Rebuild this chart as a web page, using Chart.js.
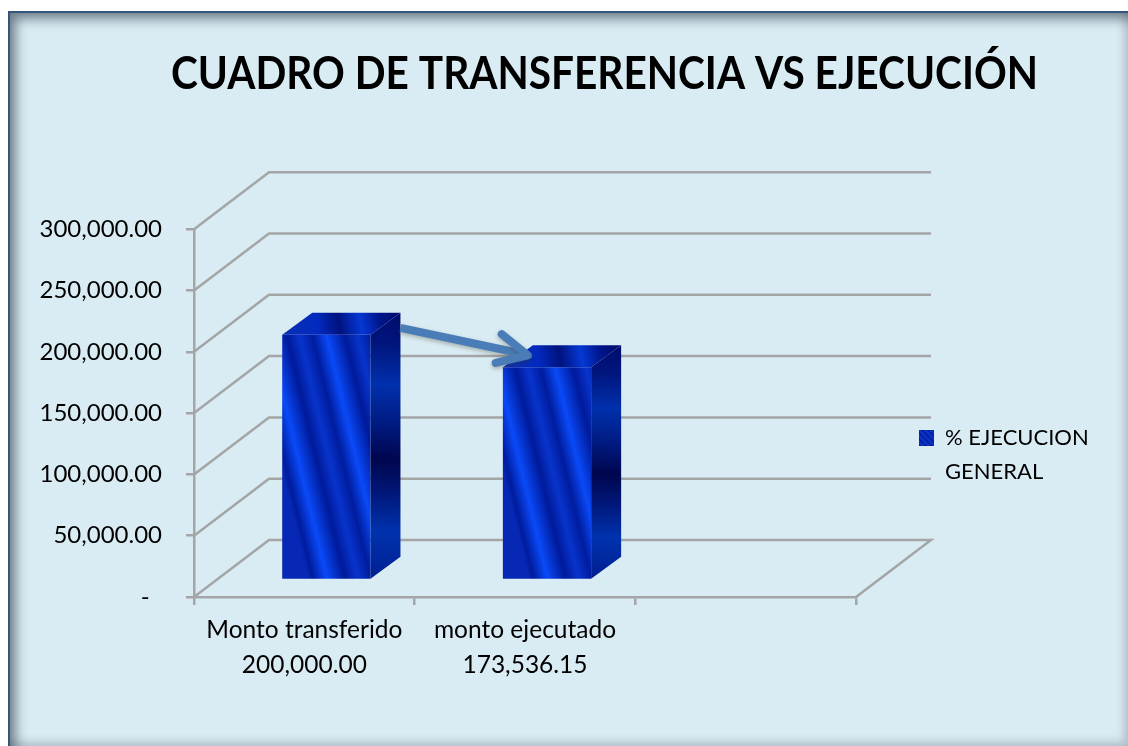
<!DOCTYPE html>
<html>
<head>
<meta charset="utf-8">
<script src="https://cdn.jsdelivr.net/npm/chart.js@4/dist/chart.umd.min.js"></script>
<style>
  body { margin: 0; background: #fff; overflow: hidden; }
  #panel {
    position: absolute; left: 8px; top: 11px; width: 1118px; height: 733px;
    background: #daecf3; border: 2px solid #34557c;
    box-shadow: inset 9px 9px 12px -3px rgba(45, 60, 75, .6), inset -4px -4px 8px rgba(45, 60, 75, .25);
  }
  canvas { position: absolute; left: 0; top: 0; }
</style>
</head>
<body>
<div id="panel"></div>
<canvas id="myChart" width="1128" height="746"></canvas>
<script>
const categories = ["Monto transferido", "monto ejecutado", ""];
const amountLabels = ["200,000.00", "173,536.15", ""];
const values = [200000, 173536.15, null];
const yTicks = [0, 50000, 100000, 150000, 200000, 250000, 300000];
const seriesLabel = ["% EJECUCION", "GENERAL"];
const titleText = "CUADRO DE TRANSFERENCIA VS EJECUCIÓN";

const GREY = "#a3a5a6";
const wall = {x: 75, y: -57};    // front floor corner -> back wall
const shift = {x: 22, y: -17};   // where the bars stand on the floor
const depth = {x: 30, y: -22};   // bar depth

function stripes(x, y) {
  // diagonal stripes on the front of a bar, anchored at its bottom left corner
  const c = document.getElementById("myChart").getContext("2d");
  const len = 260, slope = 0.24;
  const g = c.createLinearGradient(x, y, x + len, y - len * slope);
  const total = len * (1 + slope * slope);
  g.addColorStop(0, "#0628b4");
  for (let p = -39; p < total; p += 58) {
    [[0, "#0a4af8"], [18, "#001a9a"], [31, "#0834cc"], [44, "#001c9e"]].forEach(s => {
      const t = (p + s[0]) / total;
      if (t >= 0 && t <= 1) g.addColorStop(t, s[1]);
    });
  }
  return g;
}

function swatch() {
  const cv = document.createElement("canvas");
  cv.width = cv.height = 6;
  const c = cv.getContext("2d");
  c.fillStyle = "#0a30c4";
  c.fillRect(0, 0, 6, 6);
  c.strokeStyle = "#001c96";
  c.lineWidth = 1.5;
  c.beginPath();
  c.moveTo(0, 0);
  c.lineTo(6, 6);
  c.stroke();
  return document.getElementById("myChart").getContext("2d").createPattern(cv, "repeat");
}

function barFill(ctx) {
  if (ctx.type !== "data") return "#0a2fc0";
  const chart = ctx.chart;
  const catW = chart.scales.x.width / categories.length;
  const left = chart.scales.x.getPixelForValue(ctx.dataIndex) - catW * 0.2 + shift.x;
  return stripes(left, chart.scales.y.getPixelForValue(0) + shift.y);
}

const wallPlugin = {
  id: "wall",
  beforeDatasetsDraw(chart) {
    const c = chart.ctx, xs = chart.scales.x, ys = chart.scales.y;
    c.save();
    c.strokeStyle = GREY;
    c.lineWidth = 2.5;
    yTicks.forEach(v => {
      const y = ys.getPixelForValue(v);
      c.beginPath();
      c.moveTo(xs.left, y);
      c.lineTo(xs.left + wall.x, y + wall.y);
      c.lineTo(xs.right + wall.x, y + wall.y);
      if (v === 0) c.lineTo(xs.right, y);
      c.stroke();
    });
    c.restore();
    // bars stand inside the floor, not on the front edge
    c.save();
    c.translate(shift.x, shift.y);
  },
  afterDatasetsDraw(chart) {
    const c = chart.ctx;
    c.restore();
    const bars = chart.getDatasetMeta(0).data;
    bars.forEach((bar, i) => {
      if (values[i] === null) return;
      const w = bar.width;
      const l = bar.x - w / 2 + shift.x, r = l + w;
      const top = bar.y + shift.y, bottom = bar.base + shift.y;

      // side face
      let g = c.createLinearGradient(r + 14, top + depth.y, r + 4, bottom);
      [[0, "#000c6c"], [0.12, "#00167e"], [0.27, "#0030ac"], [0.42, "#001a80"], [0.55, "#00064e"], [0.68, "#00187a"], [0.82, "#0032ae"], [1, "#001f90"]]
        .forEach(s => g.addColorStop(s[0], s[1]));
      c.fillStyle = g;
      c.beginPath();
      c.moveTo(r, top);
      c.lineTo(r + depth.x, top + depth.y);
      c.lineTo(r + depth.x, bottom + depth.y);
      c.lineTo(r, bottom);
      c.closePath();
      c.fill();

      // top face
      g = c.createLinearGradient(l, top, r + depth.x, top + depth.y);
      [[0, "#0a2fb4"], [0.3, "#032ac0"], [0.48, "#00127e"], [0.66, "#0538d4"], [0.82, "#00158a"], [1, "#000d6a"]]
        .forEach(s => g.addColorStop(s[0], s[1]));
      c.fillStyle = g;
      c.beginPath();
      c.moveTo(l, top);
      c.lineTo(l + depth.x, top + depth.y);
      c.lineTo(r + depth.x, top + depth.y);
      c.lineTo(r, top);
      c.closePath();
      c.fill();
    });

    // arrow from the first bar to the second
    const a = bars[0], b = bars[1];
    const tailX = a.x + a.width / 2 + shift.x + depth.x, tailY = a.y + shift.y + depth.y + 15;
    const tipX = b.x - b.width / 2 + shift.x + 28, tipY = b.y + shift.y - 12;
    const ang = Math.atan2(tipY - tailY, tipX - tailX);
    c.save();
    c.strokeStyle = "#4a7db8";
    c.lineWidth = 8;
    c.lineJoin = "round";
    c.shadowColor = "rgba(60,60,40,.35)";
    c.shadowBlur = 4;
    c.shadowOffsetY = 2;
    c.beginPath();
    c.moveTo(tailX, tailY);
    c.lineTo(tipX - 6, tipY - 1);
    c.stroke();
    c.lineCap = "round";
    c.beginPath();
    c.moveTo(tipX - 36 * Math.cos(ang - 0.42), tipY - 36 * Math.sin(ang - 0.42));
    c.lineTo(tipX - 3, tipY);
    c.lineTo(tipX - 36 * Math.cos(ang + 0.42), tipY - 36 * Math.sin(ang + 0.42));
    c.stroke();
    c.restore();
  },
  afterLayout(chart) {
    // the title sits off centre and the legend is placed by hand, lower than the plot centre
    chart.titleBlock.left = 171;
    chart.titleBlock.right = 1038;
    chart.legend.left = 819;
    chart.legend.right = 1128;
    chart.legend.top = 327;
    chart.legend.bottom = 746;
  }
};

new Chart("myChart", {
  type: "bar",
  data: {
    labels: categories.map((c, i) => [c, amountLabels[i]]),
    datasets: [{
      label: seriesLabel.join(" "),
      data: values,
      backgroundColor: barFill,
      borderWidth: 0,
      barPercentage: 0.4,
      categoryPercentage: 1,
      clip: false
    }]
  },
  plugins: [wallPlugin],
  options: {
    responsive: false,
    animation: false,
    layout: {padding: 0},
    plugins: {
      title: {
        display: true,
        text: titleText,
        color: "#000",
        font: {family: "Lato", size: 46, weight: "bold", lineHeight: 1.2},
        padding: {top: 47, bottom: 127}
      },
      legend: {
        display: true,
        position: "right",
        align: "start",
        maxWidth: 272,
        labels: {
          color: "#000",
          boxWidth: 15,
          boxHeight: 16,
          padding: 100,
          font: {family: "Lato", size: 22, lineHeight: 1.55},
          generateLabels(chart) {
            return [{text: seriesLabel, fillStyle: swatch(), lineWidth: 0, strokeStyle: "transparent", datasetIndex: 0}];
          }
        }
      },
      tooltip: {enabled: false}
    },
    scales: {
      x: {
        grid: {drawOnChartArea: false, color: GREY, lineWidth: 2.5, tickLength: 8},
        border: {color: GREY, width: 2.5},
        ticks: {color: "#000", font: {family: "Lato", size: 24.5, lineHeight: 1.42}, padding: 8, maxRotation: 0, autoSkip: false},
        afterFit(scale) { scale.height = 149; }
      },
      y: {
        min: 0,
        max: 300000,
        afterBuildTicks(scale) { scale.ticks = yTicks.map(v => ({value: v})); },
        grid: {drawOnChartArea: false, color: GREY, lineWidth: 2.5, tickLength: 8},
        border: {color: GREY, width: 2.5},
        ticks: {
          color: "#000",
          font: {family: "Lato", size: 24},
          padding: 24,
          callback(v) {
            if (v === 0) return "-  ";
            return v.toLocaleString("en-US", {minimumFractionDigits: 2});
          }
        },
        afterFit(scale) { scale.width = 194; }
      }
    }
  }
});
</script>
</body>
</html>
